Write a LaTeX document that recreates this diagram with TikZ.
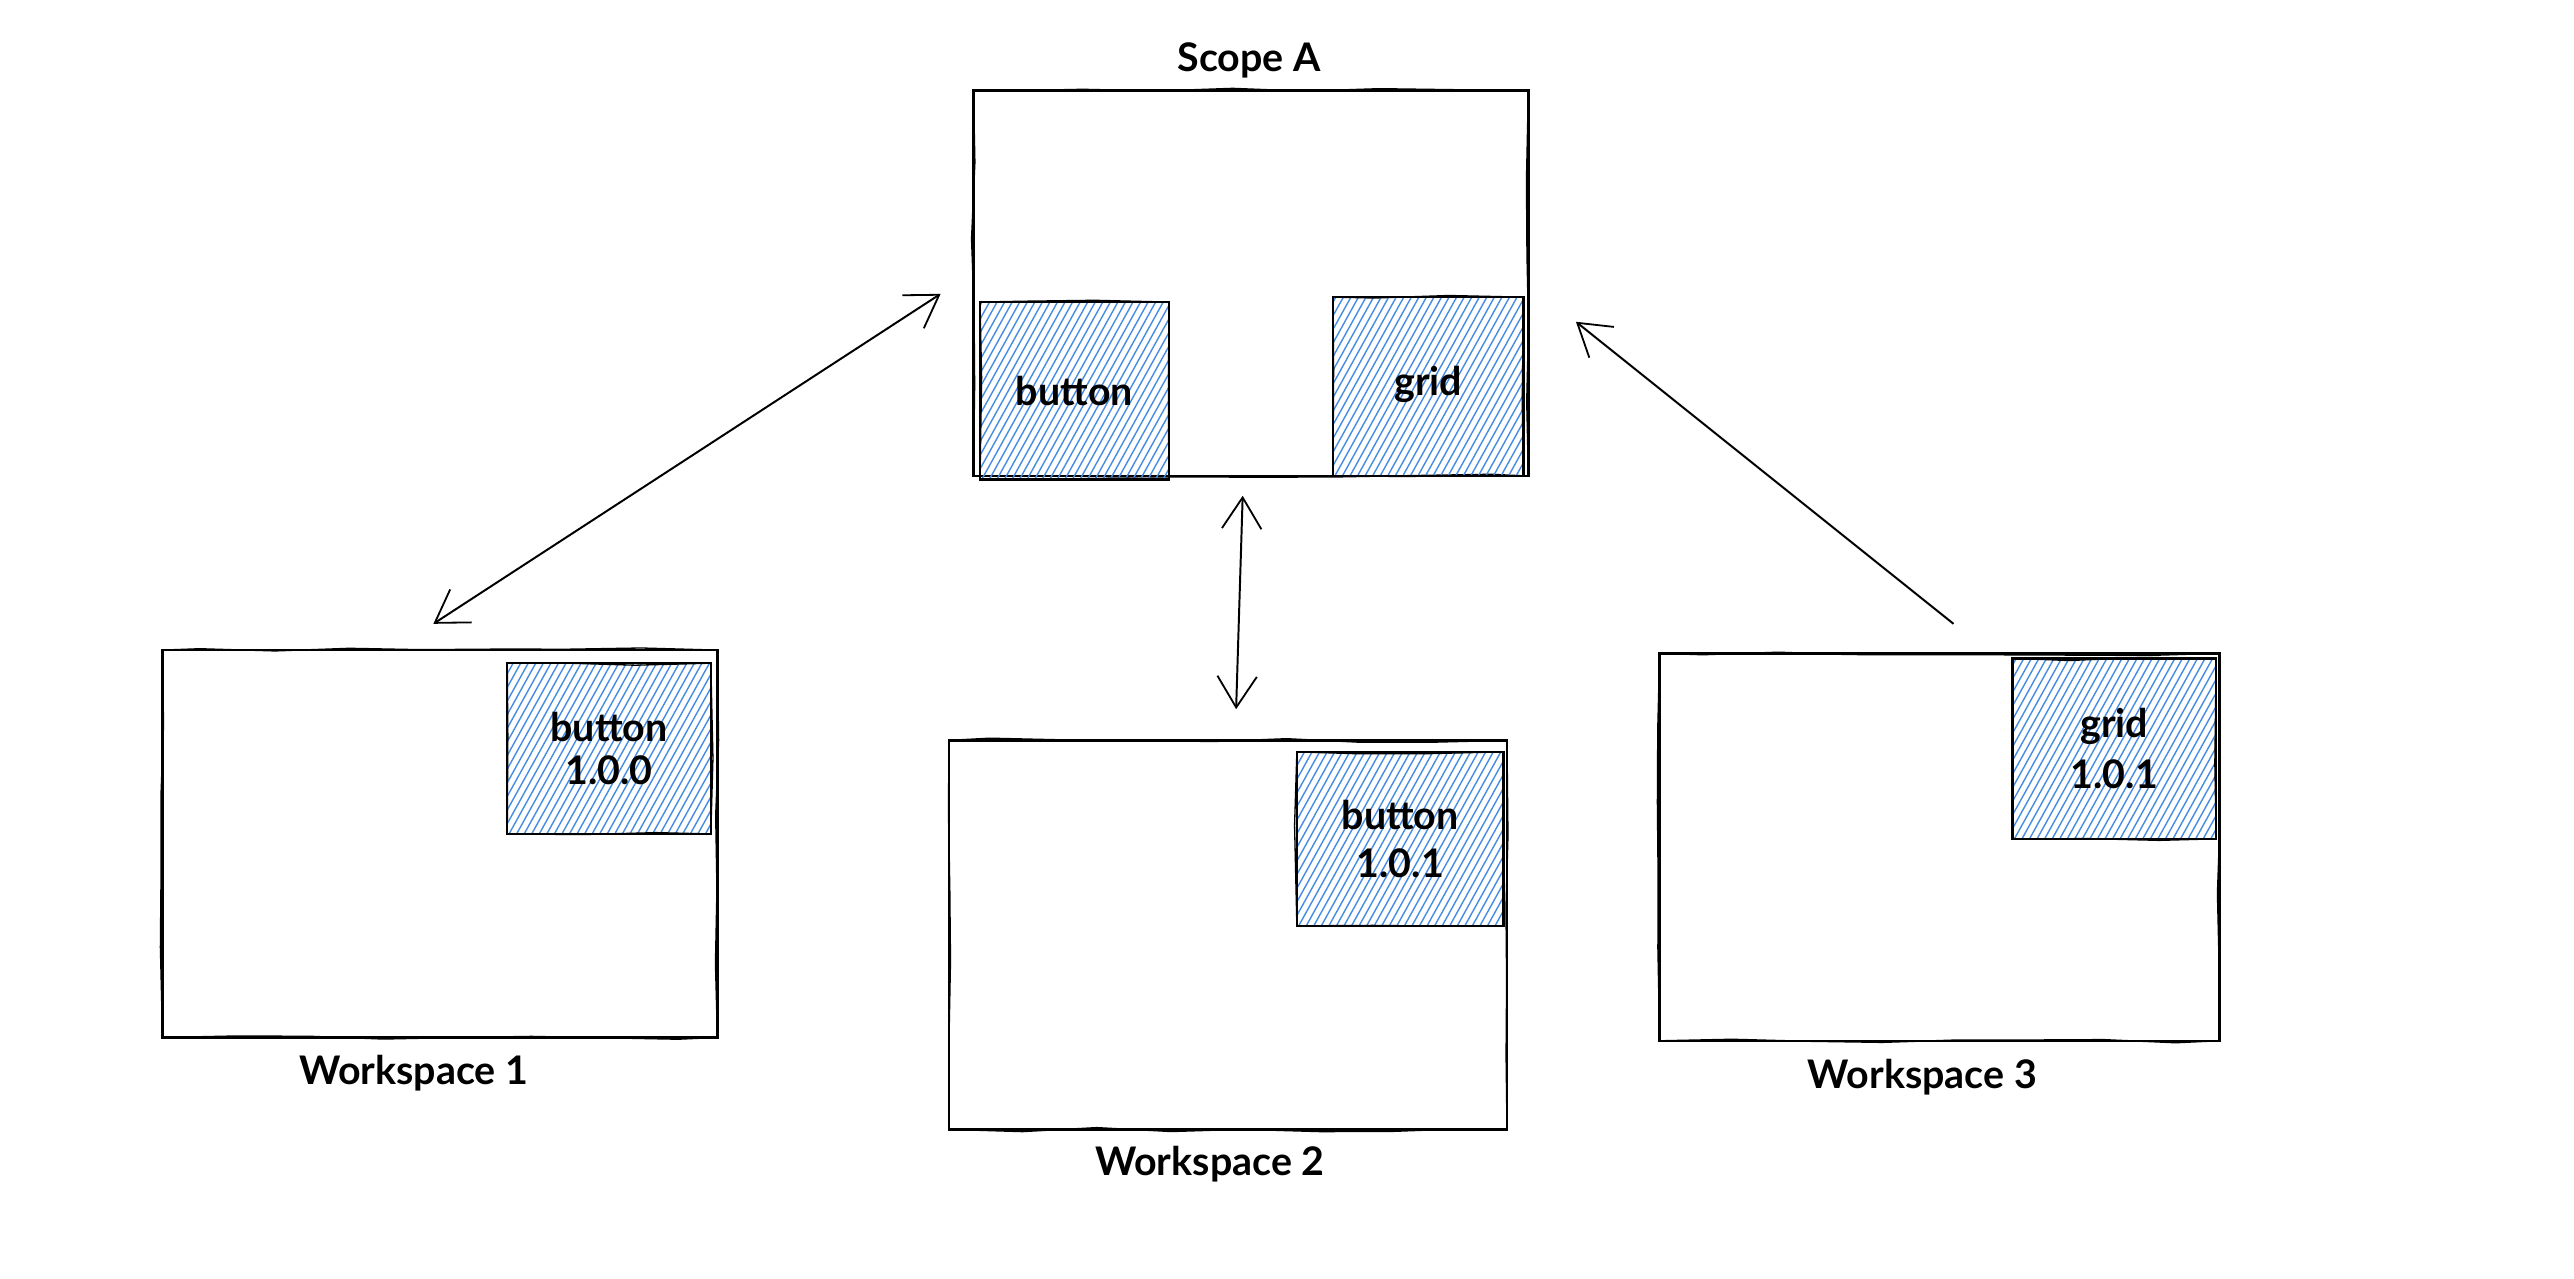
\documentclass[tikz,border=0pt]{standalone}
\usepackage{fontspec}
\setmainfont{Lato}
\usetikzlibrary{arrows.meta,decorations.pathmorphing,calc}
\definecolor{hatchblue}{RGB}{70,140,228}
\pgfmathsetseed{11}
\tikzset{
  rough/.style={postaction={draw, line width=0.8pt,
      decorate, decoration={random steps, segment length=45pt, amplitude=1.4pt}}},
  frame/.style={rectangle, draw=black, line width=1.5pt, inner sep=0pt, rough},
  comp/.style={frame, align=center, font=\bfseries\fontsize{24}{22}\selectfont,
    path picture={
      \foreach \k in {-16,...,32}
        \draw[hatchblue, line width=0.85pt]
          ($(path picture bounding box.south west)+(\k*4.6pt,-2pt)$) -- ++(61:150pt);
    }},
  caption/.style={font=\bfseries\fontsize{24}{24}\selectfont},
  barb/.tip={Straight Barb[length=19pt, width=24pt, line width=1.1pt]},
  link/.style={line width=1.2pt},
}
\begin{document}
\begin{tikzpicture}[x=1pt, y=-1pt]
\useasboundingbox (0,0) rectangle (1568,779);
\fill[white] (0,0) rectangle (1568,779);

% shared scope
\node[frame, minimum width=338pt, minimum height=235pt] (scope) at (762,172.5) {};
\node[caption] (scopelbl) at (761,37) {Scope A};
\node[comp, minimum width=115pt, minimum height=108pt] (sbtn) at (654.5,238) {button};
\node[comp, minimum width=116pt, minimum height=109pt] (sgrid) at (870,235.5) {\raisebox{7pt}{grid}};

% workspace 1
\node[frame, minimum width=338pt, minimum height=236pt] (ws1) at (268,514) {};
\node[caption] (ws1lbl) at (252,654) {Workspace 1};
\node[comp, font=\bfseries\fontsize{24}{23}\selectfont, minimum width=124pt, minimum height=104pt] (b100) at (371,456) {\raisebox{3pt}{button}\\1.0.0};

% workspace 2
\node[frame, minimum width=340pt, minimum height=237pt] (ws2) at (748,569.5) {};
\node[caption] (ws2lbl) at (737,709) {Workspace 2};
\node[comp, font=\bfseries\fontsize{24}{29}\selectfont, minimum width=126pt, minimum height=106pt] (b101) at (853,511) {button\\1.0.1};

% workspace 3
\node[frame, minimum width=341pt, minimum height=236pt] (ws3) at (1181.5,516) {};
\node[caption] (ws3lbl) at (1171,656) {Workspace 3};
\node[comp, font=\bfseries\fontsize{24}{31}\selectfont, minimum width=124pt, minimum height=110pt] (g101) at (1288,456) {grid\\1.0.1};

% connector ends
\coordinate (w1top) at (264,380);
\coordinate (scleft) at (573,179);
\coordinate (scbot) at (757,302);
\coordinate (w2top) at (753,432);
\coordinate (w3top) at (1190,380);
\coordinate (scright) at (960,196);

\draw[link, barb-barb] (w1top) -- (scleft);
\draw[link, barb-barb] (scbot) -- (w2top);
\draw[link, -barb] (w3top) -- (scright);
\end{tikzpicture}
\end{document}
